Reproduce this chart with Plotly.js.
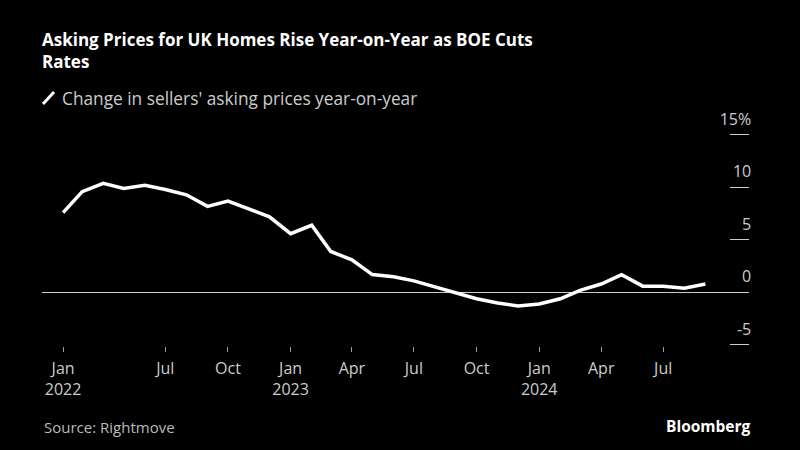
<!DOCTYPE html>
<html>
<head>
<meta charset="utf-8">
<script src="https://cdn.plot.ly/plotly-3.0.1.min.js"></script>
<style>html,body{margin:0;padding:0;background:#000;}#chart{width:800px;height:450px;}</style>
</head>
<body>
<div id="chart"></div>
<script>
// Monthly readings (reference month), Feb 2022 - Sep 2024
const months = [
  "2022-02-01","2022-03-01","2022-04-01","2022-05-01","2022-06-01","2022-07-01",
  "2022-08-01","2022-09-01","2022-10-01","2022-11-01","2022-12-01","2023-01-01",
  "2023-02-01","2023-03-01","2023-04-01","2023-05-01","2023-06-01","2023-07-01",
  "2023-08-01","2023-09-01","2023-10-01","2023-11-01","2023-12-01","2024-01-01",
  "2024-02-01","2024-03-01","2024-04-01","2024-05-01","2024-06-01","2024-07-01",
  "2024-08-01","2024-09-01"
];
const askingPriceChange = [
  7.6, 9.6, 10.4, 9.9, 10.2, 9.8,
  9.3, 8.2, 8.7, 7.9, 7.2, 5.6,
  6.4, 3.9, 3.1, 1.7, 1.5, 1.1,
  0.5, -0.1, -0.6, -1.0, -1.3, -1.1,
  -0.6, 0.2, 0.8, 1.7, 0.6, 0.6,
  0.4, 0.8
];
const seriesName = "Change in sellers' asking prices year-on-year";
const xTickVals = ["2022-02-01","2022-07-01","2022-10-01","2023-01-01","2023-04-01","2023-07-01","2023-10-01","2024-01-01","2024-04-01","2024-07-01"];
const xTickText = ["Jan<br>2022","Jul","Oct","Jan<br>2023","Apr","Jul","Oct","Jan<br>2024","Apr","Jul"];
const yTickVals = [-5, 0, 5, 10, 15];
const yTickText = ["-5", "0", "5", "10", "15%"];

const FONT = "Open Sans, Noto Sans, sans-serif";
const trace = {
  x: months,
  y: askingPriceChange,
  type: "scatter",
  mode: "lines",
  name: seriesName,
  line: {color: "#ffffff", width: 3.5, shape: "linear"},
  showlegend: false,
  hoverinfo: "x+y"
};

// plot area: top 98px, bottom 346px, left 42px, right 749px (10.5 px per unit)
const PT = 98, PB = 346, PL = 42, PR = 749;
const py = v => (PB - v) / (PB - PT);   // pixel row -> paper y
const px = v => (v - PL) / (PR - PL);   // pixel col -> paper x

const layout = {
  width: 800, height: 450,
  paper_bgcolor: "#000000", plot_bgcolor: "#000000",
  margin: {l: PL, r: 800 - PR, t: PT, b: 450 - PB},
  font: {family: FONT, color: "#cccccc", size: 15},
  title: {
    text: "<b>Asking Prices for UK Homes Rise Year-on-Year as BOE Cuts<br>Rates</b>",
    font: {family: "Open Sans, sans-serif", size: 17, color: "#ffffff"},
    x: 0, xref: "paper", xanchor: "left",
    y: 1 - 46/450, yref: "container", yanchor: "top", pad: {t: 0, l: 0}
  },
  xaxis: {
    type: "date",
    range: ["2022-01-01", "2024-11-04"],
    tickvals: xTickVals, ticktext: xTickText,
    ticks: "outside", ticklen: 5, tickwidth: 1, tickcolor: "#999999",
    ticklabelstandoff: 3,
    showgrid: false, zeroline: false, showline: false,
    tickfont: {family: FONT, size: 16, color: "#cccccc"},
    fixedrange: true
  },
  yaxis: {
    side: "right",
    range: [-5.1, 18.52],
    tickvals: yTickVals, ticktext: yTickText,
    ticks: "inside", ticklen: 19, tickwidth: 1, tickcolor: "#cccccc",
    ticklabelposition: "inside",
    ticklabelshift: -16,
    ticklabelstandoff: -21,
    showgrid: false, showline: false,
    zeroline: true, zerolinecolor: "#cccccc", zerolinewidth: 1.5,
    tickfont: {family: FONT, size: 16, color: "#cccccc"},
    fixedrange: true
  },
  shapes: [
    {type: "line", xref: "paper", yref: "paper",
     x0: px(43), x1: px(54), y0: py(104), y1: py(92),
     line: {color: "#ffffff", width: 3}}
  ],
  annotations: [
    {text: seriesName, xref: "paper", yref: "paper", x: px(60), y: py(98),
     xanchor: "left", yanchor: "middle", showarrow: false,
     font: {family: FONT, size: 17.3, color: "#cccccc"}},
    {text: "Source: Rightmove", xref: "paper", yref: "paper", x: 0, y: py(427),
     xanchor: "left", yanchor: "middle", showarrow: false,
     font: {family: FONT, size: 15, color: "#bbbbbb"}},
    {text: "<b>Bloomberg</b>", xref: "paper", yref: "paper", x: px(753), y: py(426),
     xanchor: "right", yanchor: "middle", showarrow: false,
     font: {family: "Open Sans, sans-serif", size: 15.5, color: "#ffffff"}}
  ]
};

Plotly.newPlot("chart", [trace], layout, {displayModeBar: false, staticPlot: true});
</script>
</body>
</html>
